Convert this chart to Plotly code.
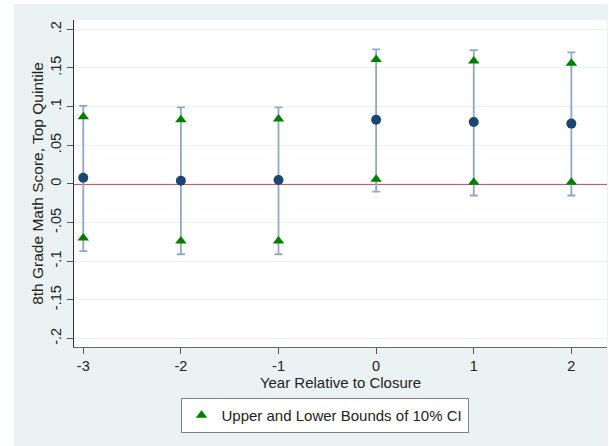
import plotly.graph_objects as go

# Event-study estimates: effect of closure on 8th grade math (top quintile)
years = [-3, -2, -1, 0, 1, 2]
year_labels = ["-3", "-2", "-1", "0", "1", "2"]
estimate = [0.008, 0.004, 0.005, 0.083, 0.080, 0.078]
ci10_upper = [0.087, 0.083, 0.084, 0.161, 0.159, 0.156]
ci10_lower = [-0.070, -0.074, -0.074, 0.006, 0.002, 0.002]
ci_cap_upper = [0.101, 0.099, 0.099, 0.174, 0.173, 0.170]
ci_cap_lower = [-0.087, -0.091, -0.091, -0.010, -0.015, -0.015]

y_ticks = [0.2, 0.15, 0.1, 0.05, 0, -0.05, -0.1, -0.15, -0.2]
y_tick_text = [".2", ".15", ".1", ".05", "0", "-.05", "-.1", "-.15", "-.2"]

FONT = "Liberation Sans, Arial, sans-serif"
OUTER_BG = "#EAF2F3"
TEXT = "#222222"

fig = go.Figure()

# point estimates with capped interval spikes
fig.add_trace(go.Scatter(
    x=years, y=estimate, mode="markers",
    marker=dict(symbol="circle", size=10, color="#1A476F"),
    error_y=dict(
        type="data", symmetric=False,
        array=[h - e for h, e in zip(ci_cap_upper, estimate)],
        arrayminus=[e - l for e, l in zip(estimate, ci_cap_lower)],
        color="#90A8C3", thickness=1.8, width=4,
    ),
    showlegend=False, hoverinfo="skip",
))

# bounds of the 10% confidence interval
fig.add_trace(go.Scatter(
    x=years + years, y=ci10_upper + ci10_lower, mode="markers",
    marker=dict(symbol="triangle-up", size=10, color="#008000"),
    name="Upper and Lower Bounds of 10% CI",
))

# reference line at zero
fig.add_hline(y=0, line=dict(color="#D8536F", width=2), layer="below")

# white frame around the graph region
for x0, x1, y0, y1 in [(-0.2, (14 - 74) / 533, -1, 2),
                       (-0.2, 1.2, (347 - 4) / 327, 2),
                       ((608 - 74) / 533, 1.2, -1, 2)]:
    fig.add_shape(type="rect", xref="paper", yref="paper",
                  x0=x0, x1=x1, y0=y0, y1=y1,
                  fillcolor="white", line=dict(width=0), layer="below")

fig.update_layout(
    width=609, height=446,
    margin=dict(l=74, r=2, t=20, b=99),
    paper_bgcolor=OUTER_BG, plot_bgcolor="white",
    font=dict(family=FONT, size=14, color=TEXT),
    showlegend=True,
    legend=dict(
        x=0.47, y=-0.156, xanchor="center", yanchor="top",
        bgcolor="white", bordercolor="#7F7F7F", borderwidth=1,
        font=dict(size=15, color=TEXT),
    ),
)

fig.update_xaxes(
    range=[-3.095, 2.365], tickvals=years, ticktext=year_labels,
    ticks="outside", ticklen=6, tickcolor="#555555",
    showgrid=False, zeroline=False,
    showline=True, linecolor="#666666", linewidth=1,
    title=dict(text="Year Relative to Closure", standoff=1, font=dict(size=15)),
    tickfont=dict(size=14.5),
)
fig.update_yaxes(
    range=[-0.211, 0.212], tickvals=y_ticks, ticktext=y_tick_text,
    tickangle=-90, ticks="outside", ticklen=6, tickcolor="#555555",
    showgrid=True, gridcolor=OUTER_BG, gridwidth=1, zeroline=False,
    showline=True, linecolor="#333333", linewidth=1,
    title=dict(text="8th Grade Math Score, Top Quintile", standoff=0, font=dict(size=15.5)),
    tickfont=dict(size=14.5),
)

fig.write_html("out.html")
